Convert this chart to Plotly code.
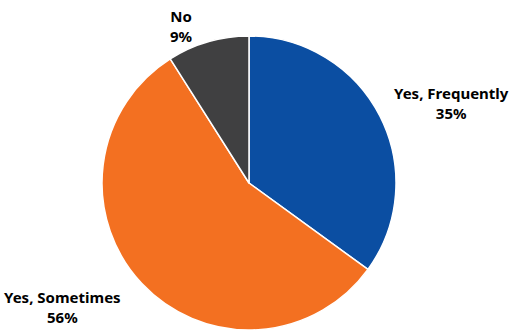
import plotly.graph_objects as go

labels = ["Yes, Frequently", "Yes, Sometimes", "No"]
values = [35, 56, 9]
colors = ["#0B4EA2", "#F37021", "#404041"]
# label positions (pixel centres) for the outside text
label_px = [(451, 103), (62, 307), (181, 26)]

W, H = 513, 330
top = 36
R = (H - top) / 2 + 1
cx = 249
ph = H - top

fig = go.Figure(go.Pie(
    labels=labels, values=values, sort=False, direction="clockwise", rotation=0,
    marker=dict(colors=colors, line=dict(color="white", width=1.5)),
    textinfo="none", hoverinfo="label+percent",
    domain=dict(x=[(cx - R) / W, (cx + R) / W], y=[0, 1]),
))

anns = []
for lab, v, (px, py) in zip(labels, values, label_px):
    anns.append(dict(
        x=px / W, y=(H - py) / ph, xref="paper", yref="paper",
        text=f"<b>{lab}<br>{v}%</b>", showarrow=False, align="center",
        font=dict(family="Noto Sans, sans-serif", size=15, color="#000000"),
        xanchor="center", yanchor="middle",
    ))

fig.update_layout(
    width=W, height=H, margin=dict(l=0, r=0, t=top, b=0),
    showlegend=False, paper_bgcolor="white", plot_bgcolor="white",
    annotations=anns,
)
fig.write_html("out.html", config={"displayModeBar": False},
               post_script="document.body.style.margin='0px';")
